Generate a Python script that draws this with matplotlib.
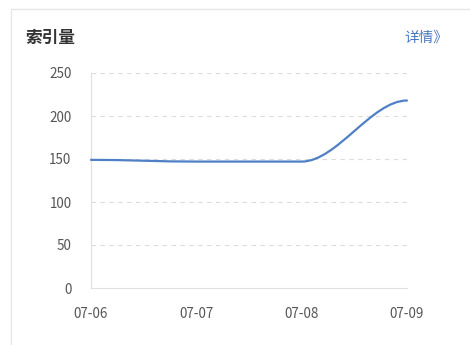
import matplotlib
matplotlib.use('Agg')
import matplotlib.pyplot as plt
import numpy as np
from matplotlib.path import Path
from matplotlib.patches import PathPatch, Rectangle

plt.rcParams['font.family'] = ['Noto Sans CJK SC', 'DejaVu Sans']

# данные графика
dates = ['07-06', '07-07', '07-08', '07-09']
index_count = [149, 147, 147, 218]
y_ticks = [0, 50, 100, 150, 200, 250]
title = '索引量'
link_text = '详情》'

line_color = '#4f80c6'
grid_color = '#dcdcdc'
text_color = '#555555'

fig = plt.figure(figsize=(4.7, 3.45), dpi=100)
fig.patch.set_facecolor('white')

# рамка карточки
fig.add_artist(Rectangle((11 / 470, -0.1), 1.2, 1 - 9 / 345 + 0.1,
                         transform=fig.transFigure, fill=False,
                         edgecolor='#e6e6e6', linewidth=1.0))

fig.text(25 / 470, 1 - 38 / 345, title, fontsize=12, color='#333333',
         fontweight='bold', va='center', ha='left')
fig.text(404 / 470, 1 - 38 / 345, link_text, fontsize=10.5, color='#4a78c0',
         va='center', ha='left')

ax = fig.add_axes([91 / 470, 1 - 288 / 345, 316 / 470, 215 / 345])
x = np.arange(len(dates))

# сглаженная линия: кубические кривые Безье между точками (как smooth в echarts)
verts = [(x[0], index_count[0])]
codes = [Path.MOVETO]
for i in range(len(x) - 1):
    dx = x[i + 1] - x[i]
    verts += [(x[i] + dx / 3, index_count[i]),
              (x[i + 1] - dx / 3, index_count[i + 1]),
              (x[i + 1], index_count[i + 1])]
    codes += [Path.CURVE4] * 3
ax.add_patch(PathPatch(Path(verts, codes), facecolor='none',
                       edgecolor=line_color, linewidth=1.6,
                       capstyle='round', clip_on=False, zorder=3))

ax.set_xlim(0, 3)
ax.set_ylim(0, 250)
ax.set_xticks(x)
ax.set_xticklabels(dates)
ax.set_yticks(y_ticks)
for yt in y_ticks[1:]:
    ax.axhline(yt, color=grid_color, linestyle=(0, (4, 4)), linewidth=0.8, zorder=1)

for s in ['top', 'right']:
    ax.spines[s].set_visible(False)
for s in ['left', 'bottom']:
    ax.spines[s].set_color('#e0e0e0')
    ax.spines[s].set_linewidth(0.8)
ax.tick_params(length=0, labelsize=9.7, colors=text_color)
ax.tick_params(axis='x', pad=14)
ax.tick_params(axis='y', pad=14)

fig.savefig('out.png', dpi=100)
